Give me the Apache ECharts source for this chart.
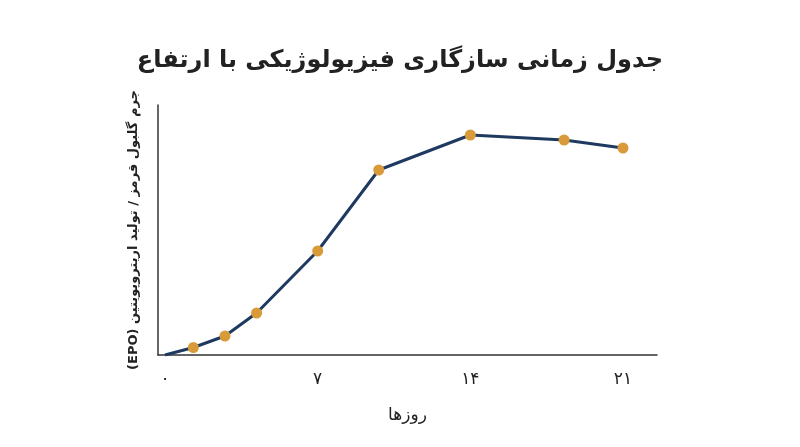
<!DOCTYPE html>
<html><head><meta charset="utf-8">
<script src="https://cdn.jsdelivr.net/npm/echarts@6/dist/echarts.min.js"></script>
<style>html,body{margin:0;background:#fff}#c{width:800px;height:447px}</style>
</head><body><div id="c"></div>
<script>
const days = [0, 1.3, 2.75, 4.2, 7, 9.8, 14, 18.3, 21];
const values = [0, 3, 7.6, 16.8, 41.6, 74, 88, 86, 82.8];
const tickDays = [0, 7, 14, 21];
const fa = s => String(s).replace(/\d/g, d => '۰۱۲۳۴۵۶۷۸۹'[d]);
const font = "'DejaVu Sans','Noto Sans',sans-serif";
const chart = echarts.init(document.getElementById('c'));
chart.setOption({
  title: {text: 'جدول زمانی سازگاری فیزیولوژیکی با ارتفاع', left: 'center', top: 44,
    textStyle: {fontFamily: font, fontSize: 24, fontWeight: 'bold', color: '#222'}},
  grid: [
    {left: 158, right: 143, top: 105, bottom: 92},
    {left: 165, right: 177, top: 105, bottom: 92}
  ],
  xAxis: [
    {gridIndex: 0, type: 'value', min: 0, max: 1, axisLine: {lineStyle: {color: '#333', width: 1.5}},
     axisTick: {show: false}, axisLabel: {show: false}, splitLine: {show: false},
     name: 'روزها', nameLocation: 'middle', nameGap: 52,
     nameTextStyle: {fontFamily: font, fontSize: 17, color: '#222'}},
    {gridIndex: 1, type: 'value', min: 0, max: 21, interval: 7, axisLine: {show: false},
     axisTick: {show: false}, splitLine: {show: false},
     axisLabel: {formatter: v => fa(v), fontFamily: font, fontSize: 17, color: '#222', margin: 16}}
  ],
  yAxis: [
    {gridIndex: 0, type: 'value', min: 0, max: 1, axisLine: {show: true, lineStyle: {color: '#333', width: 1.5}},
     axisTick: {show: false}, axisLabel: {show: false}, splitLine: {show: false},
     name: '(EPO) جرم گلبول قرمز / تولید اریتروپویتین', nameLocation: 'middle', nameGap: 18,
     nameTextStyle: {fontFamily: font, fontSize: 13, fontWeight: 'bold', color: '#222'}},
    {gridIndex: 1, type: 'value', min: 0, max: 100, show: false}
  ],
  series: [{
    type: 'line', xAxisIndex: 1, yAxisIndex: 1,
    data: days.map((d, i) => i === 0 ? {value: [d, values[i]], symbol: 'none'} : [d, values[i]]),
    symbol: 'circle', symbolSize: 11,
    lineStyle: {color: '#1f3a60', width: 3},
    itemStyle: {color: '#d99a3a', borderWidth: 0}
  }]
});
</script></body></html>
